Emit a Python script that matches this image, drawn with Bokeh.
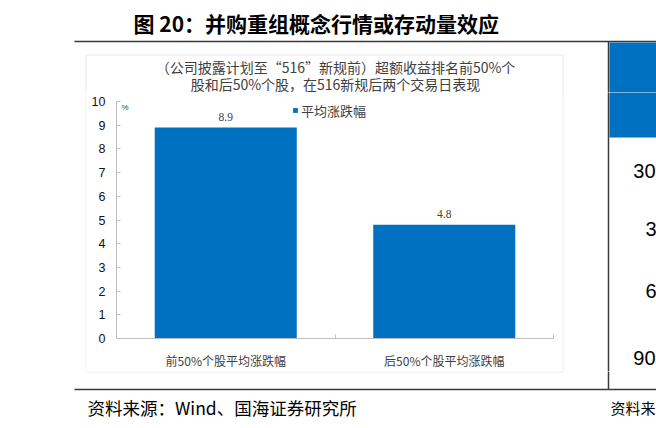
from bokeh.plotting import figure
from bokeh.layouts import column, row
from bokeh.models import (Range1d, Label, LabelSet, ColumnDataSource, FixedTicker)
from bokeh.core.properties import value
from bokeh.embed import file_html
from bokeh.resources import INLINE

# ---------------- data ----------------
TITLE = "图 20：并购重组概念行情或存动量效应"
SUBTITLE_LINES = ["（公司披露计划至“516”新规前）超额收益排名前50%个",
                  "股和后50%个股，在516新规后两个交易日表现"]
CATEGORIES = ["前50%个股平均涨跌幅", "后50%个股平均涨跌幅"]
VALUES = [8.9, 4.8]
VALUE_LABELS = ["8.9", "4.8"]
SERIES_NAME = "平均涨跌幅"
Y_TICKS = [0, 1, 2, 3, 4, 5, 6, 7, 8, 9, 10]
Y_UNIT = "%"
SOURCE_TEXT = "资料来源：Wind、国海证券研究所"
SIDE_NUMBERS = ["30", "3", "6", "90"]
SIDE_SOURCE = "资料来"

BLUE = "#0070C0"
DARK = "#3a3a3a"
BOXC = "#e6e6e6"
CJK = "Noto Sans CJK SC"
LATIN = "Liberation Sans"

W, H = 656, 428
# layout cut lines (page pixels)
TOP_H = 92          # title strip: y 0..92
MID_B = 371         # chart row: y 92..371
L_W = 86            # left strip: x 0..86
C_R = 562           # chart figure: x 86..562
# plotting frame (page pixels)
FL, FR, FT, FB = 116, 553, 101, 341


def deco(x0, x1, y0, y1):
    f = figure(width=x1 - x0, height=y1 - y0,
               x_range=Range1d(x0, x1), y_range=Range1d(y1, y0),
               output_backend="svg", toolbar_location=None, title=None,
               x_axis_type=None, y_axis_type=None, min_border=0)
    f.frame_align = False
    f.outline_line_color = None
    f.background_fill_color = "white"
    f.border_fill_color = "white"
    return f


def seg(f, x0, y0, x1, y1, color, lw=1.0):
    f.segment(x0=[x0], y0=[y0], x1=[x1], y1=[y1], line_color=color, line_width=lw)


def txt(f, x, y, text, size, color="#000000", font=CJK, align="left", style="normal"):
    f.text(x=[x], y=[y], text=[text], text_font=value(font),
           text_font_size=f"{size}px", text_color=color, text_align=align,
           text_baseline="middle", text_font_style=style)


# ---------------- top strip ----------------
top = deco(0, W, 0, TOP_H)
txt(top, 133, 22, TITLE, 21, style="bold")
seg(top, 74, 41, W + 2, 41, DARK, 1.5)
seg(top, 608, 41, 608, TOP_H + 2, DARK, 1.5)
top.quad(left=[609], right=[W + 2], top=[42], bottom=[TOP_H + 2], fill_color=BLUE, line_color=None)
seg(top, 85.5, 54.5, 562.5, 54.5, BOXC)
seg(top, 85.5, 54.5, 85.5, TOP_H + 2, BOXC)
seg(top, 562.5, 54.5, 562.5, TOP_H + 2, BOXC)
txt(top, 335, 66, SUBTITLE_LINES[0], 14, color="#404040", align="center")
txt(top, 335, 83, SUBTITLE_LINES[1], 14, color="#404040", align="center")

# ---------------- left strip ----------------
left = deco(0, L_W, TOP_H, MID_B)
seg(left, 85.5, TOP_H - 2, 85.5, MID_B + 0.5, BOXC)

# ---------------- chart ----------------
N = len(CATEGORIES)
X_POS = [i + 0.5 for i in range(N)]
X_BOUNDS = [float(i) for i in range(N + 1)]

p = figure(width=C_R - L_W, height=MID_B - TOP_H,
           x_range=Range1d(0, N), y_range=Range1d(0, 10),
           output_backend="svg", toolbar_location=None, title=None,
           min_border_left=FL - L_W, min_border_right=C_R - FR,
           min_border_top=FT - TOP_H, min_border_bottom=MID_B - FB)
p.frame_align = False
p.extra_x_ranges = {"px": Range1d(FL, FR)}
p.extra_y_ranges = {"py": Range1d(FB, FT)}
p.outline_line_color = None
p.xgrid.grid_line_color = None
p.ygrid.grid_line_color = None
p.background_fill_color = "white"
p.border_fill_color = "white"

p.yaxis.ticker = FixedTicker(ticks=Y_TICKS)
p.yaxis.axis_line_color = "#bfbfbf"
p.yaxis.major_tick_line_color = "#bfbfbf"
p.yaxis.major_tick_in = 4
p.yaxis.major_tick_out = 0
p.yaxis.minor_tick_line_color = None
p.yaxis.major_label_text_font = LATIN
p.yaxis.major_label_text_font_size = "12.5px"
p.yaxis.major_label_text_color = "#111111"
p.yaxis.major_label_standoff = 11

p.xaxis.ticker = FixedTicker(ticks=X_POS, minor_ticks=X_BOUNDS)
p.xaxis.major_label_overrides = {x: c for x, c in zip(X_POS, CATEGORIES)}
p.xaxis.axis_line_color = "#bfbfbf"
p.xaxis.major_tick_line_color = None
p.xaxis.minor_tick_line_color = "#bfbfbf"
p.xaxis.minor_tick_in = 4
p.xaxis.minor_tick_out = 0
p.xaxis.major_label_text_font = CJK
p.xaxis.major_label_text_font_size = "12px"
p.xaxis.major_label_text_color = "#404040"
p.xaxis.major_label_standoff = 7

src = ColumnDataSource(dict(x=X_POS, val=VALUES, lab=VALUE_LABELS))
p.vbar(x="x", top="val", width=0.65, source=src, fill_color=BLUE,
       line_color=None, legend_label=SERIES_NAME)
p.add_layout(LabelSet(x="x", y="val", text="lab", source=src,
                      text_align="center", text_baseline="bottom", y_offset=7,
                      text_font=LATIN, text_font_size="11.5px",
                      text_color="#404040"))
p.add_layout(Label(x=121, y=107, x_range_name="px", y_range_name="py", text=Y_UNIT,
                   text_font=LATIN, text_font_size="8px", text_color="#404040",
                   text_baseline="middle"))

lg = p.legend[0]
lg.location = (176, 218)
lg.padding = 0
lg.margin = 0
lg.border_line_color = None
lg.background_fill_alpha = 0
lg.glyph_width = 6
lg.glyph_height = 6
lg.label_standoff = 3
lg.label_height = 20
lg.label_text_font = CJK
lg.label_text_font_size = "13px"
lg.label_text_color = "#404040"

# ---------------- right strip ----------------
right = deco(C_R, W, TOP_H, MID_B)
seg(right, 562.5, TOP_H - 2, 562.5, MID_B - 0.5, BOXC)
seg(right, 608, TOP_H - 2, 608, MID_B + 2, DARK, 1.5)
right.quad(left=[609], right=[W + 2], top=[TOP_H - 2], bottom=[137], fill_color=BLUE, line_color=None)
for s, x, y in zip(SIDE_NUMBERS, [655, 656, 656, 655], [170, 228, 290, 357]):
    txt(right, x, y, s, 20, font=LATIN, align="right")

# ---------------- bottom strip ----------------
bottom = deco(0, W, MID_B, H)
seg(bottom, 85.5, MID_B + 0.5, 562.5, MID_B + 0.5, BOXC)
seg(bottom, 608, MID_B - 2, 608, 389, DARK, 1.5)
seg(bottom, 74, 389, W + 2, 389, DARK, 1.5)
txt(bottom, 87, 407, SOURCE_TEXT, 17.5)
txt(bottom, 610, 407, SIDE_SOURCE, 15)

layout = column(top, row(left, p, right), bottom)
open("out.html", "w").write(file_html(layout, INLINE))
